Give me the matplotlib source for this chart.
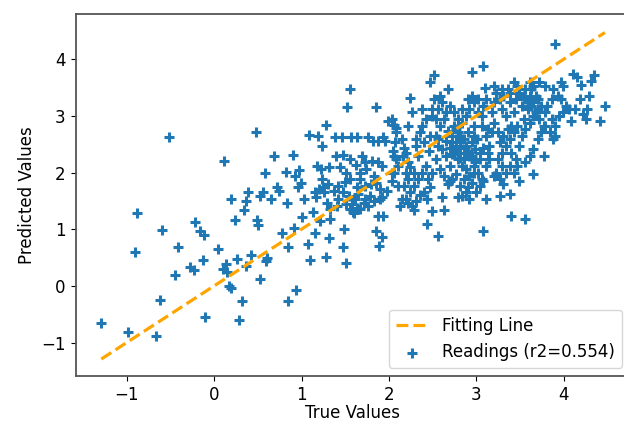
import numpy as np
import matplotlib
matplotlib.use("Agg")
import matplotlib.pyplot as plt

# (true, predicted) readings, grouped by range of the true value
readings_low = [
    (-1.29, -0.66), (-0.99, -0.81), (-0.91, 0.59), (-0.88, 1.28), (-0.66, -0.89),
    (-0.62, -0.25), (-0.59, 0.98), (-0.51, 2.63), (-0.45, 0.19), (-0.41, 0.68),
    (-0.28, 0.34), (-0.23, 0.28), (-0.22, 1.13), (-0.16, 0.96), (-0.12, 0.89),
    (-0.13, 0.45), (-0.10, -0.54), (0.05, 0.66), (0.11, 2.21), (0.10, 0.29),
    (0.14, 0.38), (0.15, 0.25), (0.17, 0.0), (0.19, -0.03), (0.19, 1.54),
    (0.24, 1.16), (0.26, 0.47), (0.28, -0.61), (0.32, -0.26), (0.34, 1.34),
    (0.37, 1.50), (0.39, 1.65), (0.37, 0.35), (0.42, 0.54), (0.48, 2.72),
    (0.49, 1.16), (0.50, 1.07), (0.52, 1.59), (0.53, 0.13), (0.56, 1.65),
    (0.58, 2.0), (0.59, 0.44), (0.61, 0.5), (0.65, 1.53), (0.68, 2.29),
    (0.72, 1.74), (0.74, 1.68), (0.78, 0.94), (0.82, 2.01), (0.83, 1.46),
    (0.84, -0.26), (0.85, 0.68), (0.90, 2.31), (0.91, 1.03), (0.92, 1.94),
    (0.94, -0.08), (0.96, 1.74), (0.97, 2.04), (0.99, 1.82),
]

readings_one = [
    (1.0, 1.22), (1.03, 1.53), (1.07, 0.74), (1.08, 2.66), (1.10, 0.45),
    (1.13, 1.31), (1.15, 0.94), (1.18, 2.12), (1.19, 2.64), (1.21, 1.15),
    (1.23, 2.47), (1.25, 1.74), (1.28, 2.84), (1.28, 0.51), (1.31, 0.84),
    (1.32, 2.09), (1.33, 1.18), (1.37, 1.68), (1.38, 2.63), (1.40, 2.29),
    (1.42, 1.54), (1.46, 2.63), (1.48, 0.68), (1.49, 1.01), (1.51, 0.41),
    (1.52, 3.15), (1.55, 3.47), (1.56, 1.88), (1.57, 2.62), (1.58, 1.44),
    (1.59, 1.31), (1.62, 2.13), (1.64, 2.63), (1.67, 1.88), (1.69, 2.29),
    (1.73, 1.53), (1.76, 2.63), (1.79, 1.79), (1.82, 2.56), (1.85, 3.15),
    (1.85, 0.97), (1.88, 2.18), (1.89, 0.71), (1.90, 1.53), (1.92, 0.87),
    (1.93, 1.24), (1.96, 2.56), (1.98, 1.68), (1.99, 2.91),
    (1.48, 2.31), (1.56, 2.24), (1.73, 2.18), (1.81, 2.21), (1.92, 2.12),
    (1.22, 2.06), (1.44, 2.09), (1.51, 2.0), (1.67, 2.0), (1.74, 2.06),
    (1.83, 1.94), (1.23, 1.88), (1.30, 1.79), (1.42, 1.76), (1.50, 1.84),
    (1.63, 1.74), (1.73, 1.76), (1.85, 1.82), (1.90, 1.71), (1.26, 1.65),
    (1.48, 1.65), (1.54, 1.59), (1.61, 1.53), (1.65, 1.62), (1.78, 1.59),
    (1.83, 1.50), (1.92, 1.56), (1.29, 1.47), (1.33, 1.35), (1.41, 1.41),
    (1.51, 1.44), (1.56, 1.35), (1.63, 1.38), (1.67, 1.35), (1.71, 1.47),
    (1.76, 1.41), (1.17, 1.56), (1.20, 1.71), (1.15, 1.66), (1.88, 2.56),
    (1.93, 2.62), (1.60, 1.29), (1.87, 1.24),
]

readings_two = [
    (2.04, 2.0), (2.06, 2.29), (2.08, 2.79), (2.10, 1.76), (2.13, 1.41),
    (2.16, 2.29), (2.19, 1.53), (2.22, 1.88), (2.24, 3.31), (2.29, 1.34),
    (2.31, 2.59), (2.35, 1.60), (2.38, 2.82), (2.44, 1.09), (2.47, 3.59),
    (2.49, 1.32), (2.51, 3.72), (2.56, 0.88), (2.58, 3.35), (2.61, 1.56),
    (2.63, 1.34), (2.67, 3.47), (2.70, 1.85), (2.79, 1.56), (2.95, 3.78),
    (2.97, 2.0),
    (2.04, 2.94), (2.06, 2.84), (2.08, 2.71), (2.07, 2.53), (2.05, 2.38),
    (2.08, 2.24), (2.10, 2.12), (2.06, 2.0), (2.04, 1.85), (2.15, 2.59),
    (2.17, 2.44), (2.20, 2.35), (2.22, 2.18), (2.24, 2.09), (2.29, 2.0),
    (2.31, 2.47), (2.33, 2.29), (2.36, 2.71), (2.40, 2.53), (2.42, 2.12),
    (2.45, 1.88), (2.46, 2.38), (2.47, 2.65), (2.49, 3.0), (2.49, 3.12),
    (2.42, 2.94), (2.38, 3.12), (2.26, 3.06), (2.22, 2.82), (2.20, 2.0),
    (2.17, 1.76), (2.15, 1.53), (2.24, 1.65), (2.29, 1.76), (2.33, 1.88),
    (2.38, 2.0), (2.40, 1.65), (2.43, 1.53), (2.47, 1.74), (2.49, 2.0),
    (2.26, 1.41), (2.22, 1.47), (2.31, 1.50),
    (2.51, 3.29), (2.56, 3.12), (2.61, 3.24), (2.65, 3.06), (2.54, 2.94),
    (2.58, 2.82), (2.63, 2.94), (2.67, 2.74), (2.72, 2.65), (2.74, 2.82),
    (2.77, 2.53), (2.79, 2.71), (2.81, 2.44), (2.84, 2.59), (2.86, 2.35),
    (2.88, 2.47), (2.90, 2.71), (2.92, 2.29), (2.95, 2.53), (2.97, 2.82),
    (2.99, 2.41), (2.56, 2.59), (2.61, 2.41), (2.65, 2.29), (2.70, 2.12),
    (2.74, 2.35), (2.79, 2.24), (2.84, 2.12), (2.88, 2.06), (2.92, 1.94),
    (2.97, 2.12), (2.54, 2.24), (2.58, 2.06), (2.63, 1.94), (2.67, 1.79),
    (2.72, 1.88), (2.77, 1.97), (2.81, 1.76), (2.86, 1.88), (2.90, 1.74),
    (2.95, 1.82), (2.54, 2.65), (2.56, 2.47), (2.65, 2.56), (2.70, 2.44),
    (2.77, 2.76), (2.84, 2.88), (2.88, 3.0), (2.92, 3.12), (2.97, 3.24),
    (2.70, 3.18), (2.74, 3.06), (2.79, 2.94), (2.84, 3.12), (2.90, 3.29),
    (2.95, 3.35), (2.72, 2.32), (2.77, 2.38), (2.81, 2.26), (2.86, 2.24),
    (2.90, 2.38), (2.95, 2.29), (2.99, 2.18), (2.97, 2.65), (2.86, 2.59),
    (2.81, 2.65), (2.77, 2.47), (2.72, 2.53), (2.88, 1.65), (2.92, 1.53),
    (2.83, 1.59),
]

readings_three = [
    (3.0, 1.65), (3.08, 3.88), (3.08, 0.97), (3.10, 3.50), (3.11, 1.54),
    (3.20, 1.94), (3.27, 1.59), (3.31, 1.79), (3.38, 1.62), (3.40, 1.24),
    (3.49, 1.85), (3.56, 1.18), (3.65, 1.97), (3.77, 2.29), (3.72, 3.59),
    (3.79, 3.52), (3.90, 4.26), (3.97, 3.59), (3.99, 3.53), (4.08, 2.91),
    (4.11, 3.74), (4.15, 3.68), (4.20, 3.54), (4.22, 3.03), (4.25, 2.94),
    (4.29, 3.35), (4.31, 3.62), (4.34, 3.72), (4.41, 2.91), (4.47, 3.18),
    (3.01, 2.59), (3.04, 2.24), (3.06, 3.0), (3.08, 3.18), (3.11, 3.29),
    (3.13, 2.76), (3.15, 2.47), (3.18, 3.06), (3.20, 3.24), (3.02, 2.0),
    (3.06, 1.88), (3.11, 2.12), (3.15, 2.24), (3.02, 3.29), (3.02, 3.06),
    (3.06, 2.82), (3.11, 2.65), (3.13, 2.35), (3.18, 2.71), (3.20, 2.88),
    (3.04, 2.35), (3.08, 2.44), (3.04, 1.76), (3.08, 1.85), (3.20, 3.53),
    (3.29, 3.47), (3.38, 3.41), (3.43, 3.59),
    (3.22, 3.41), (3.27, 3.29), (3.29, 3.12), (3.31, 3.35), (3.34, 3.0),
    (3.36, 3.47), (3.38, 3.24), (3.40, 2.82), (3.43, 3.06), (3.45, 3.29),
    (3.47, 3.53), (3.49, 3.41), (3.52, 3.18), (3.54, 2.94), (3.56, 3.29),
    (3.59, 3.12), (3.61, 3.35), (3.63, 3.47), (3.65, 3.24), (3.68, 3.06),
    (3.70, 3.29), (3.72, 2.94), (3.74, 3.18), (3.77, 2.82), (3.79, 3.06),
    (3.56, 3.47), (3.61, 3.59), (3.65, 3.53), (3.54, 3.35), (3.59, 3.24),
    (3.63, 3.18), (3.68, 3.35), (3.70, 3.12), (3.65, 3.0), (3.61, 2.88),
    (3.56, 2.76), (3.52, 2.65), (3.47, 2.82), (3.43, 2.71), (3.38, 2.59),
    (3.34, 2.47), (3.29, 2.35), (3.25, 2.71), (3.27, 2.53), (3.31, 2.65),
    (3.36, 2.76), (3.40, 2.35), (3.45, 2.24), (3.49, 2.47), (3.25, 2.24),
    (3.29, 2.12), (3.34, 2.0), (3.38, 2.12), (3.22, 2.0), (3.27, 1.88),
    (3.43, 2.0), (3.47, 2.12), (3.56, 2.18), (3.61, 2.29), (3.65, 2.41),
    (3.70, 2.59), (3.74, 2.71), (3.79, 2.82), (3.84, 2.71), (3.88, 2.59),
    (3.90, 2.65), (3.86, 3.29), (3.81, 3.18), (3.88, 3.47), (3.93, 3.35),
    (3.97, 3.29), (4.02, 3.18), (4.06, 3.12), (3.86, 2.94), (3.90, 2.82),
    (3.95, 3.0), (3.99, 3.06), (4.27, 3.12), (4.18, 3.29), (4.13, 3.12),
]

r2_value = 0.554

readings = np.array(readings_low + readings_one + readings_two + readings_three)
y_true = readings[:, 0]
y_pred = readings[:, 1]

plt.rcParams['font.size'] = 12

fig = plt.figure(figsize=(6.24, 4.23), dpi=100)
ax = fig.add_axes([0.121, 0.111, 0.889, 0.855])

# ideal fit: predicted == true over the span of true values
line_ends = [y_true.min(), y_true.max()]
ax.plot(line_ends, line_ends, linestyle='--', color='orange', lw=2.3,
        label='Fitting Line')
ax.scatter(y_true, y_pred, marker='+', s=55, linewidths=2.2, color='#1f77b4',
           label='Readings (r2=%.3f)' % r2_value)

ax.set_xlim(-1.585, 4.76)
ax.set_ylim(-1.59, 4.79)
ax.set_xticks(range(-1, 5))
ax.set_yticks(range(-1, 5))
for sp in ax.spines.values():
    sp.set_color('#555555')
    sp.set_linewidth(1.3)

ax.set_xlabel('True Values', labelpad=0)
ax.set_ylabel('Predicted Values')
ax.legend(loc='lower right')

fig.savefig('out.png', dpi=100)
